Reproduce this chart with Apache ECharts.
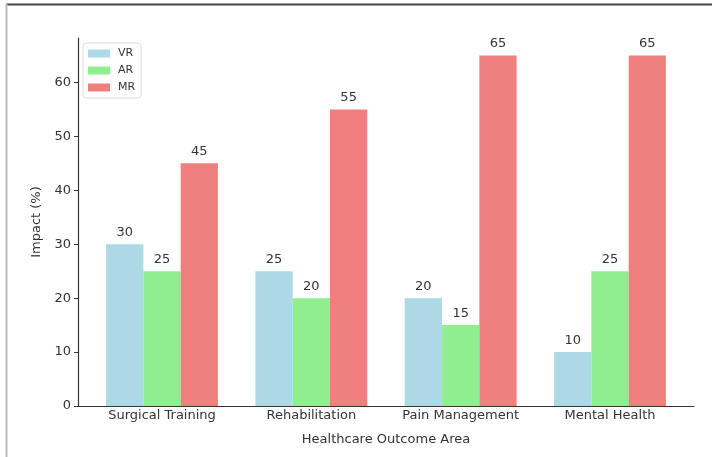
<!DOCTYPE html>
<html>
<head>
<meta charset="utf-8">
<script src="https://cdn.jsdelivr.net/npm/echarts@6/dist/echarts.min.js"></script>
<style>html,body{margin:0;padding:0;background:#fff}#c{width:712px;height:457px}</style>
</head>
<body>
<div id="c"></div>
<script>
const categories = ["Surgical Training", "Rehabilitation", "Pain Management", "Mental Health"];
const vrValues = [30, 25, 20, 10];
const arValues = [25, 20, 15, 25];
const mrValues = [45, 55, 65, 65];
const yTicks = [0, 10, 20, 30, 40, 50, 60];

const chart = echarts.init(document.getElementById('c'));
const font = 'DejaVu Sans';
function mk(name, vals, color) {
  return {
    name: name, type: 'bar',
    data: vals.map((v, i) => [i, v]),
    barWidth: 37.3, barGap: '0%',
    itemStyle: { color: color },
    label: { show: true, position: 'top', distance: 5, color: '#333', fontFamily: font, fontSize: 13 },
    emphasis: { disabled: true }
  };
}
chart.setOption({
  animation: false,
  textStyle: { fontFamily: font },
  grid: { left: 78, right: 18, top: 38, bottom: 51 },
  legend: {
    left: 83, top: 43, orient: 'vertical', itemWidth: 22, itemHeight: 8, itemGap: 6,
    padding: [5, 6, 5, 5],
    borderColor: '#ddd', borderWidth: 1, borderRadius: 3,
    textStyle: { fontFamily: font, fontSize: 11, color: '#333', padding: [0, 0, 0, 3] },
    icon: 'rect',
    data: ['VR', 'AR', 'MR']
  },
  xAxis: {
    type: 'value', min: -0.5625, max: 3.5625,
    name: 'Healthcare Outcome Area', nameLocation: 'middle', nameGap: 27,
    nameTextStyle: { fontFamily: font, fontSize: 13, color: '#333' },
    splitLine: { show: false },
    axisLine: { show: true, onZero: false, lineStyle: { color: '#333', width: 1.2 } },
    axisTick: { show: true, inside: true, customValues: [0, 1, 2, 3], length: 4, lineStyle: { color: '#333' } },
    axisLabel: { customValues: [0, 1, 2, 3], formatter: v => categories[Math.round(v)] || '', color: '#333', fontFamily: font, fontSize: 13, margin: 3 }
  },
  yAxis: {
    type: 'value', min: 0, max: 68.25, interval: 10,
    name: 'Impact (%)', nameLocation: 'middle', nameGap: 28,
    nameTextStyle: { fontFamily: font, fontSize: 13, color: '#333' },
    splitLine: { show: false },
    axisLine: { show: true, onZero: false, lineStyle: { color: '#333', width: 1.2 } },
    axisTick: { show: true, length: 4, lineStyle: { color: '#333' }, customValues: yTicks },
    axisLabel: { customValues: yTicks, color: '#333', fontFamily: font, fontSize: 13, margin: 7 }
  },
  series: [mk('VR', vrValues, '#ADD8E6'), mk('AR', arValues, '#90EE90'), mk('MR', mrValues, '#F08080')],
  graphic: [
    { type: 'line', shape: { x1: 6, y1: 4.5, x2: 712, y2: 4.5 }, style: { stroke: '#444', lineWidth: 2 }, silent: true },
    { type: 'line', shape: { x1: 6.5, y1: 4, x2: 6.5, y2: 457 }, style: { stroke: '#bbb', lineWidth: 2 }, silent: true }
  ]
});
</script>
</body>
</html>
